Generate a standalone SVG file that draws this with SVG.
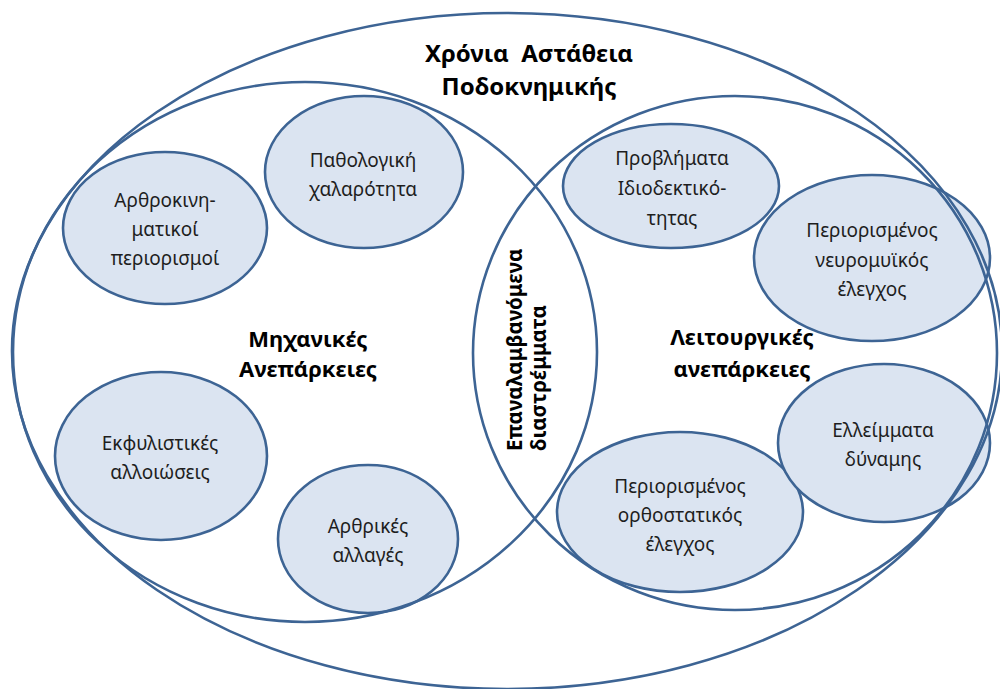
<svg xmlns="http://www.w3.org/2000/svg" width="1000" height="689" viewBox="0 0 1000 689">
<style>
.big{fill:none;stroke:#3d6494;stroke-width:2.6}
.node{fill:#dbe4f1;stroke:#3d6494;stroke-width:2.6}
.t{font-family:"Noto Sans","Open Sans",sans-serif;font-size:19px;fill:#1e1e1e;text-anchor:middle}
.b{font-family:"Noto Sans","Open Sans",sans-serif;font-weight:bold;font-size:22px;fill:#000;text-anchor:middle}
.title{font-size:24px}
</style>
<rect width="1000" height="689" fill="#fff"/>
<g id="nodes">
<g id="n-arthrokinimatikoi"><ellipse class="node" cx="165" cy="228" rx="102" ry="76"/>
<text class="t" x="165" y="207">Αρθροκινη-</text><text class="t" x="165" y="236">ματικοί</text><text class="t" x="165" y="265">περιορισμοί</text></g>
<g id="n-pathologiki"><ellipse class="node" cx="364" cy="172" rx="99" ry="76"/>
<text class="t" x="363" y="167">Παθολογική</text><text class="t" x="363" y="196">χαλαρότητα</text></g>
<g id="n-idiodektikotitas"><ellipse class="node" cx="671" cy="186" rx="108" ry="62"/>
<text class="t" x="672" y="165">Προβλήματα</text><text class="t" x="672" y="195">Ιδιοδεκτικό-</text><text class="t" x="672" y="225">τητας</text></g>
<g id="n-neuromuikos"><ellipse class="node" cx="872" cy="258" rx="118" ry="83"/>
<text class="t" x="872" y="237">Περιορισμένος</text><text class="t" x="872" y="267">νευρομυϊκός</text><text class="t" x="872" y="296">έλεγχος</text></g>
<g id="n-ekfylistikes"><ellipse class="node" cx="161" cy="456" rx="106" ry="84"/>
<text class="t" x="160" y="450">Εκφυλιστικές</text><text class="t" x="160" y="479">αλλοιώσεις</text></g>
<g id="n-arthrikes"><ellipse class="node" cx="368" cy="539" rx="90" ry="74"/>
<text class="t" x="368" y="533">Αρθρικές</text><text class="t" x="368" y="562">αλλαγές</text></g>
<g id="n-orthostatikos"><ellipse class="node" cx="680" cy="512" rx="123" ry="80"/>
<text class="t" x="680" y="493">Περιορισμένος</text><text class="t" x="680" y="522">ορθοστατικός</text><text class="t" x="680" y="551">έλεγχος</text></g>
<g id="n-ellimmata"><ellipse class="node" cx="884" cy="443" rx="106" ry="79"/>
<text class="t" x="883" y="437">Ελλείμματα</text><text class="t" x="883" y="466">δύναμης</text></g>
</g>
<g id="regions">
<g id="r-chronia"><ellipse class="big" cx="507" cy="351" rx="495" ry="338"/>
<text class="b title" x="529" y="62" xml:space="preserve">Χρόνια  Αστάθεια</text><text class="b title" x="529" y="95">Ποδοκνημικής</text></g>
<g id="r-michanikes"><ellipse class="big" cx="305" cy="352" rx="292" ry="270"/>
<text class="b" x="308" y="347">Μηχανικές</text><text class="b" x="308" y="377">Ανεπάρκειες</text></g>
<g id="r-leitourgikes"><ellipse class="big" cx="735" cy="353" rx="262" ry="257"/>
<text class="b" x="742" y="345">Λειτουργικές</text><text class="b" x="742" y="377">ανεπάρκειες</text></g>
<g id="r-diastremmata">
<text class="b" style="text-anchor:start;font-size:20.5px" transform="translate(522,451) rotate(-90)">Επαναλαμβανόμενα</text>
<text class="b" style="text-anchor:start;font-size:20.5px" transform="translate(546,451) rotate(-90)">διαστρέμματα</text></g>
</g>
<g id="connectors"/>
</svg>
